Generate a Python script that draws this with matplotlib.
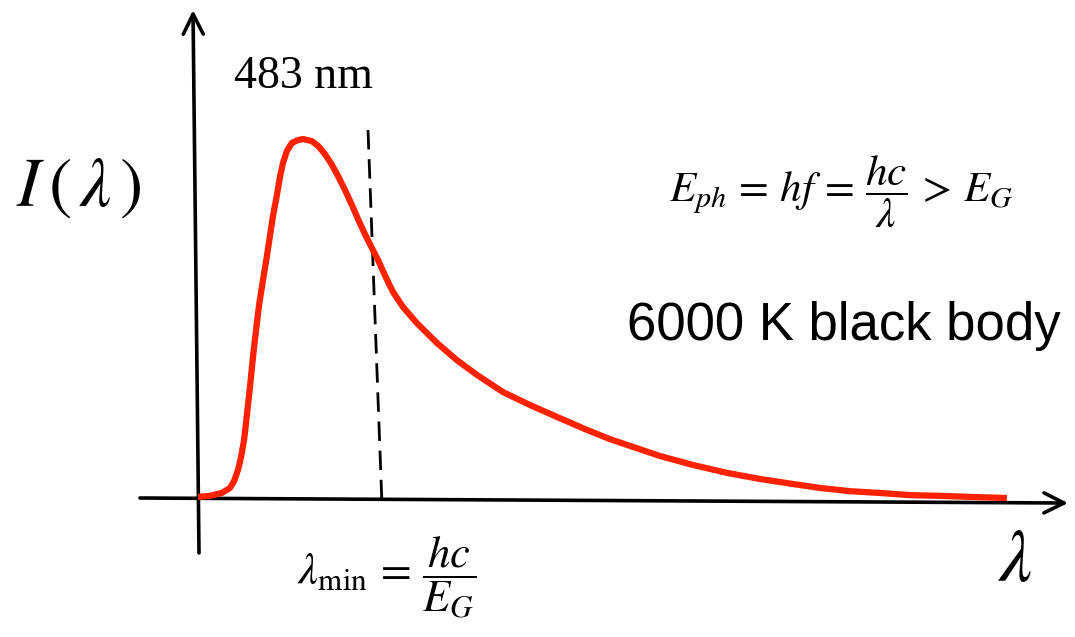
import matplotlib
matplotlib.use("Agg")
import matplotlib.pyplot as plt

plt.rcParams["mathtext.fontset"] = "stix"

# 6000 K black-body spectrum (schematic): wavelength in nm, intensity normalised to the peak
wavelength_nm = [0, 55, 110, 147, 166, 184, 198, 212, 225, 239, 253, 267, 281, 299,
                 317, 331, 345, 363, 377, 391, 409, 432, 460, 483, 524, 552, 584, 616,
                 644, 676, 708, 736, 768, 800, 828, 851, 874, 897, 943, 1007, 1099, 1191,
                 1283, 1403, 1527, 1651, 1780, 1895, 1973, 2125, 2277, 2433, 2585, 2737,
                 2861, 2999, 3137, 3275, 3413, 3551, 3721]
intensity = [0.003, 0.006, 0.014, 0.028, 0.047, 0.078, 0.114, 0.162, 0.231, 0.309,
             0.393, 0.468, 0.538, 0.607, 0.674, 0.730, 0.786, 0.844, 0.894, 0.933,
             0.967, 0.989, 0.997, 1.000, 0.994, 0.981, 0.958, 0.928, 0.897, 0.858,
             0.816, 0.777, 0.735, 0.696, 0.663, 0.632, 0.602, 0.574, 0.532, 0.487,
             0.432, 0.384, 0.343, 0.295, 0.259, 0.226, 0.192, 0.164, 0.148, 0.117,
             0.092, 0.070, 0.053, 0.039, 0.028, 0.019, 0.014, 0.008, 0.006, 0.003,
             0.000]

peak_label = "483 nm"

# cut-off wavelength marker (drawn slightly slanted, end points)
cutoff_lambda = [782, 846]
cutoff_level = [1.025, -0.014]

# hand-drawn axes: (x0, y0) -> (x1, y1) in data units
x_axis = [(-267, 0.0), (4002, -0.014)]
y_axis = [(4.6, -0.153), (-23, 1.359)]

fig = plt.figure(figsize=(10.75, 6.37), dpi=100)
ax = fig.add_axes([0, 0, 1, 1])
ax.set_xlim(-910.8, 4034.2)
ax.set_ylim(-0.3872, 1.3872)
ax.axis("off")

head = dict(arrowstyle="->,head_length=0.72,head_width=0.36", lw=2.6,
            color="black", mutation_scale=20, shrinkA=0, shrinkB=0)
ax.annotate("", xy=x_axis[1], xytext=x_axis[0], arrowprops=head)
ax.annotate("", xy=y_axis[1], xytext=y_axis[0], arrowprops=head)

ax.plot(cutoff_lambda, cutoff_level, color="black", lw=2.0,
        linestyle=(0, (7, 3.5)), zorder=2)
ax.plot(wavelength_nm, intensity, color="#ff2200", lw=4.5,
        solid_capstyle="butt", solid_joinstyle="round", zorder=3)


def px(x, y):
    return x / 1075, 1 - y / 637


T = ax.transAxes
ax.text(*px(303, 88), peak_label, transform=T, ha="center", va="baseline",
        fontsize=33, family="Liberation Serif")
ax.text(*px(16, 206), r"$I\,(\,\lambda\,)$", transform=T, ha="left",
        va="baseline", fontsize=50)
ax.text(*px(841, 192), r"$E_{ph}\,=\,hf\,=\,\dfrac{hc}{\lambda}\,>\,E_G$",
        transform=T, ha="center", va="center", fontsize=31)
ax.text(*px(627, 340), "6000 K black body", transform=T, ha="left",
        va="baseline", fontsize=38, family="Liberation Sans")
ax.text(*px(297, 578), r"$\lambda_{\min}\,=\,\dfrac{hc}{E_G}$", transform=T,
        ha="left", va="center", fontsize=32)
ax.text(*px(998, 581), r"$\lambda$", transform=T, ha="left", va="baseline",
        fontsize=53)

fig.savefig("out.png", dpi=100)
